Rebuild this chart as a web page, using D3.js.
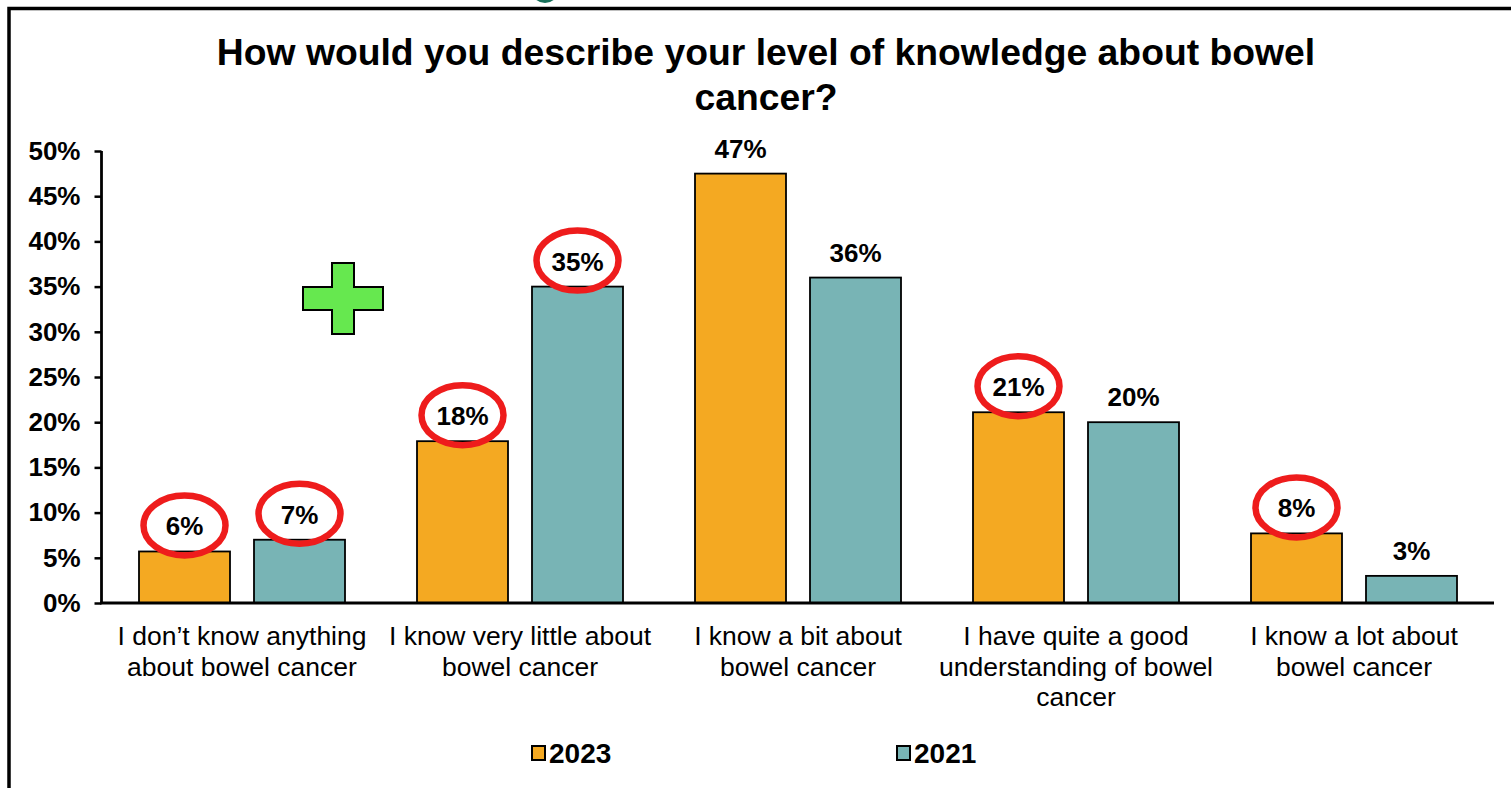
<!DOCTYPE html>
<html>
<head>
<meta charset="utf-8">
<script src="https://cdn.jsdelivr.net/npm/d3@7"></script>
<style>
  html, body { margin: 0; padding: 0; background: #fff; }
  svg { display: block; font-family: "Liberation Sans", Arial, sans-serif; }
</style>
</head>
<body>
<svg id="chart" width="1511" height="788"></svg>
<script>
const titleLines = ["How would you describe your level of knowledge about bowel", "cancer?"];
const categories = [
  ["I don\u2019t know anything", "about bowel cancer"],
  ["I know very little about", "bowel cancer"],
  ["I know a bit about", "bowel cancer"],
  ["I have quite a good", "understanding of bowel", "cancer"],
  ["I know a lot about", "bowel cancer"]
];
const seriesNames = ["2023", "2021"];
const values2023 = [0.057, 0.179, 0.475, 0.211, 0.077];
const values2021 = [0.070, 0.350, 0.360, 0.200, 0.030];
const labels2023 = ["6%", "18%", "47%", "21%", "8%"];
const labels2021 = ["7%", "35%", "36%", "20%", "3%"];
const yTicks = [0, 0.05, 0.10, 0.15, 0.20, 0.25, 0.30, 0.35, 0.40, 0.45, 0.50];
// highlighted (circled) labels: [categoryIndex, seriesName]
const circled = [[0, "2023"], [0, "2021"], [1, "2023"], [1, "2021"], [3, "2023"], [4, "2023"]];

const colors = { "2023": "#F4A922", "2021": "#78B4B5" };

const svg = d3.select("#chart");

// frame and decorative elements
svg.append("ellipse").attr("cx", 545).attr("cy", -9).attr("rx", 13).attr("ry", 12).attr("fill", "#17705a");
svg.append("rect").attr("x", 9).attr("y", 8.5).attr("width", 1600).attr("height", 900)
  .attr("fill", "none").attr("stroke", "#000").attr("stroke-width", 3.5);

// title
svg.append("g").selectAll("text").data(titleLines).join("text")
  .attr("x", 766).attr("y", (d, i) => 52 + i * 45)
  .attr("text-anchor", "middle").attr("dominant-baseline", "central")
  .attr("font-weight", "bold").attr("font-size", 37.3).attr("fill", "#000")
  .text(d => d);

const y = d3.scaleLinear().domain([0, 0.5]).range([603, 151]);
const idx = categories.map((d, i) => i);
const x0 = d3.scaleBand().domain(idx).range([103, 1493]).paddingInner(0.259).paddingOuter(0.1295);
const x1 = d3.scaleBand().domain(seriesNames).range([0, x0.bandwidth()]).paddingInner(0.2087);

const data = seriesNames.flatMap(s => idx.map(i => ({
  cat: i, series: s,
  value: s === "2023" ? values2023[i] : values2021[i],
  label: s === "2023" ? labels2023[i] : labels2021[i]
})));

// bars
svg.append("g").selectAll("rect").data(data).join("rect")
  .attr("x", d => x0(d.cat) + x1(d.series))
  .attr("y", d => y(d.value))
  .attr("width", x1.bandwidth())
  .attr("height", d => y(0) - y(d.value))
  .attr("fill", d => colors[d.series])
  .attr("stroke", "#000").attr("stroke-width", 1.8);

// y axis
const yAxis = d3.axisLeft(y).tickValues(yTicks).tickFormat(d3.format(".0%")).tickSize(7).tickPadding(14);
const gy = svg.append("g").attr("transform", "translate(101.5,0)").call(yAxis);
gy.select(".domain").attr("stroke", "#000").attr("stroke-width", 2.8).attr("d", `M0,${y(0.5)}V${y(0)}`);
gy.selectAll(".tick line").attr("stroke", "#000").attr("stroke-width", 2.5);
gy.selectAll(".tick text").attr("font-family", "Liberation Sans, Arial, sans-serif")
  .attr("font-size", 26).attr("font-weight", "bold").attr("fill", "#000");

// x baseline
svg.append("line").attr("x1", 100).attr("x2", 1494).attr("y1", y(0)).attr("y2", y(0))
  .attr("stroke", "#000").attr("stroke-width", 3);

// category labels
const catG = svg.append("g").selectAll("text").data(idx).join("text")
  .attr("x", i => x0(i) + x0.bandwidth() / 2)
  .attr("text-anchor", "middle").attr("font-size", 26.5).attr("fill", "#000");
catG.selectAll("tspan").data(i => categories[i].map((t, k) => ({ t, k, i }))).join("tspan")
  .attr("x", d => x0(d.i) + x0.bandwidth() / 2)
  .attr("y", d => 636 + d.k * 30.5)
  .attr("dominant-baseline", "central")
  .text(d => d.t);

// value labels
const labelY = d => y(d.value) - 25;
svg.append("g").selectAll("text").data(data).join("text")
  .attr("x", d => x0(d.cat) + x1(d.series) + x1.bandwidth() / 2)
  .attr("y", labelY)
  .attr("text-anchor", "middle").attr("dominant-baseline", "central")
  .attr("font-size", 26).attr("font-weight", "bold").attr("fill", "#000")
  .text(d => d.label);

// red circles around highlighted labels
const circledData = circled.map(([c, s]) => data.find(d => d.cat === c && d.series === s));
svg.append("g").selectAll("ellipse").data(circledData).join("ellipse")
  .attr("cx", d => x0(d.cat) + x1(d.series) + x1.bandwidth() / 2)
  .attr("cy", d => labelY(d) - 1)
  .attr("rx", 41).attr("ry", 30)
  .attr("fill", "none").attr("stroke", "#EE1C1C").attr("stroke-width", 6.5);

// green plus sign
const plus = "M332,263 H354 V287 H383 V310 H354 V334 H332 V310 H303 V287 H332 Z";
svg.append("path").attr("d", plus).attr("fill", "#66E84F").attr("stroke", "#000").attr("stroke-width", 2);

// legend
const legendX = [532, 897];
const lg = svg.append("g").selectAll("g").data(seriesNames).join("g")
  .attr("transform", (d, i) => `translate(${legendX[i]},746)`);
lg.append("rect").attr("width", 13).attr("height", 14)
  .attr("fill", d => colors[d]).attr("stroke", "#000").attr("stroke-width", 2);
lg.append("text").attr("x", 17).attr("y", 7).attr("dominant-baseline", "central")
  .attr("font-size", 28).attr("font-weight", "bold").attr("fill", "#000").text(d => d);
</script>
</body>
</html>
